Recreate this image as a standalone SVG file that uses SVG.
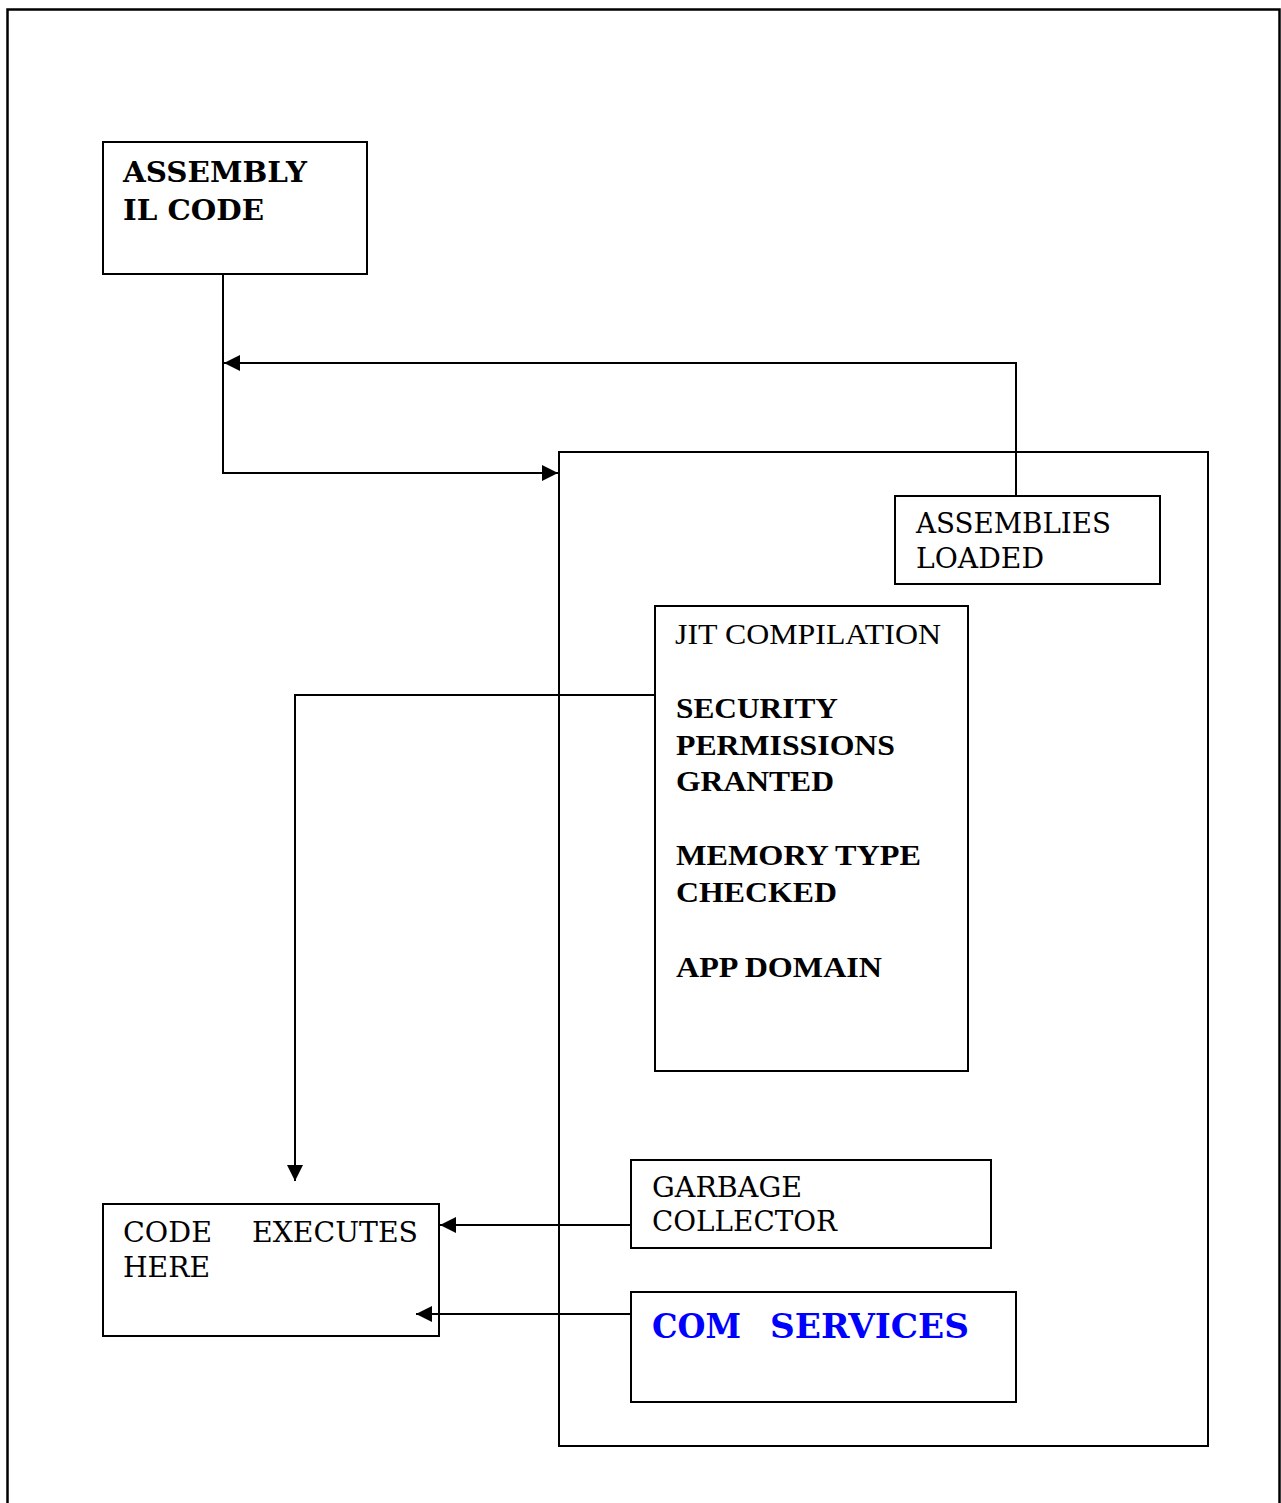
<svg xmlns="http://www.w3.org/2000/svg" width="1281" height="1503" viewBox="0 0 1281 1503">
  <style>
    .box { fill: #fff; stroke: #000; stroke-width: 2; }
    .frame { fill: none; stroke: #000; stroke-width: 2.5; }
    .wire { fill: none; stroke: #000; stroke-width: 2; }
    .sch { font-family: "DejaVu Serif", "Liberation Serif", serif; font-size: 27px; fill: #000; }
    .schb { font-family: "DejaVu Serif", "Liberation Serif", serif; font-size: 27px; font-weight: bold; fill: #000; }
    .tms { font-family: "Liberation Serif", "Times New Roman", serif; font-size: 30px; fill: #000; }
    .tmsb { font-family: "Liberation Serif", "Times New Roman", serif; font-size: 30px; font-weight: bold; fill: #000; }
    .com { font-family: "DejaVu Serif", "Liberation Serif", serif; font-size: 34px; font-weight: bold; fill: #0000ff; }
  </style>
  <defs>
    <marker id="arrow" viewBox="0 0 16 16" refX="16" refY="8" markerWidth="16" markerHeight="16" markerUnits="userSpaceOnUse" orient="auto">
      <path d="M0,0 L16,8 L0,16 Z" fill="#000"/>
    </marker>
  </defs>

  <rect width="1281" height="1503" fill="#fff"/>
  <!-- page frame -->
  <rect class="frame" x="7.5" y="9.5" width="1272" height="1510"/>

  <!-- runtime container -->
  <g id="runtime">
    <rect class="box" x="559" y="452" width="649" height="994"/>
  </g>

  <g id="assembly">
    <rect class="box" x="103" y="142" width="264" height="132"/>
    <text class="schb" x="123" y="182" textLength="184" lengthAdjust="spacingAndGlyphs">ASSEMBLY</text>
    <text class="schb" x="123" y="220" textLength="141" lengthAdjust="spacingAndGlyphs">IL CODE</text>
  </g>

  <g id="assemblies-loaded">
    <rect class="box" x="895" y="496" width="265" height="88"/>
    <text class="sch" x="916" y="533" textLength="195" lengthAdjust="spacingAndGlyphs">ASSEMBLIES</text>
    <text class="sch" x="916" y="568" textLength="128" lengthAdjust="spacingAndGlyphs">LOADED</text>
  </g>

  <g id="jit">
    <rect class="box" x="655" y="606" width="313" height="465"/>
    <text class="tms" x="675" y="644" textLength="266" lengthAdjust="spacingAndGlyphs">JIT COMPILATION</text>
    <text class="tmsb" x="676" y="718" textLength="162" lengthAdjust="spacingAndGlyphs">SECURITY</text>
    <text class="tmsb" x="676" y="755" textLength="219" lengthAdjust="spacingAndGlyphs">PERMISSIONS</text>
    <text class="tmsb" x="676" y="791" textLength="158" lengthAdjust="spacingAndGlyphs">GRANTED</text>
    <text class="tmsb" x="676" y="865" textLength="245" lengthAdjust="spacingAndGlyphs">MEMORY TYPE</text>
    <text class="tmsb" x="676" y="902" textLength="161" lengthAdjust="spacingAndGlyphs">CHECKED</text>
    <text class="tmsb" x="676" y="977" textLength="206" lengthAdjust="spacingAndGlyphs">APP DOMAIN</text>
  </g>

  <g id="garbage-collector">
    <rect class="box" x="631" y="1160" width="360" height="88"/>
    <text class="sch" x="652" y="1197" textLength="150" lengthAdjust="spacingAndGlyphs">GARBAGE</text>
    <text class="sch" x="652" y="1231" textLength="185" lengthAdjust="spacingAndGlyphs">COLLECTOR</text>
  </g>

  <g id="com-services">
    <rect class="box" x="631" y="1292" width="385" height="110"/>
    <text class="com" x="652" y="1338" textLength="89" lengthAdjust="spacingAndGlyphs">COM</text>
    <text class="com" x="770" y="1338" textLength="199" lengthAdjust="spacingAndGlyphs">SERVICES</text>
  </g>

  <g id="code-executes">
    <rect class="box" x="103" y="1204" width="336" height="132"/>
    <text class="sch" x="123" y="1242" textLength="89" lengthAdjust="spacingAndGlyphs">CODE</text>
    <text class="sch" x="252" y="1242" textLength="166" lengthAdjust="spacingAndGlyphs">EXECUTES</text>
    <text class="sch" x="123" y="1277" textLength="87" lengthAdjust="spacingAndGlyphs">HERE</text>
  </g>

  <!-- connectors drawn last so they stay on top of box fills -->
  <g id="connectors">
    <polyline class="wire" points="223,274 223,473 558,473" marker-end="url(#arrow)"/>
    <polyline class="wire" points="1016,496 1016,363 224,363" marker-end="url(#arrow)"/>
    <polyline class="wire" points="655,695 295,695 295,1181" marker-end="url(#arrow)"/>
    <line class="wire" x1="631" y1="1225" x2="440" y2="1225" marker-end="url(#arrow)"/>
    <line class="wire" x1="631" y1="1314" x2="416" y2="1314" marker-end="url(#arrow)"/>
  </g>
</svg>
